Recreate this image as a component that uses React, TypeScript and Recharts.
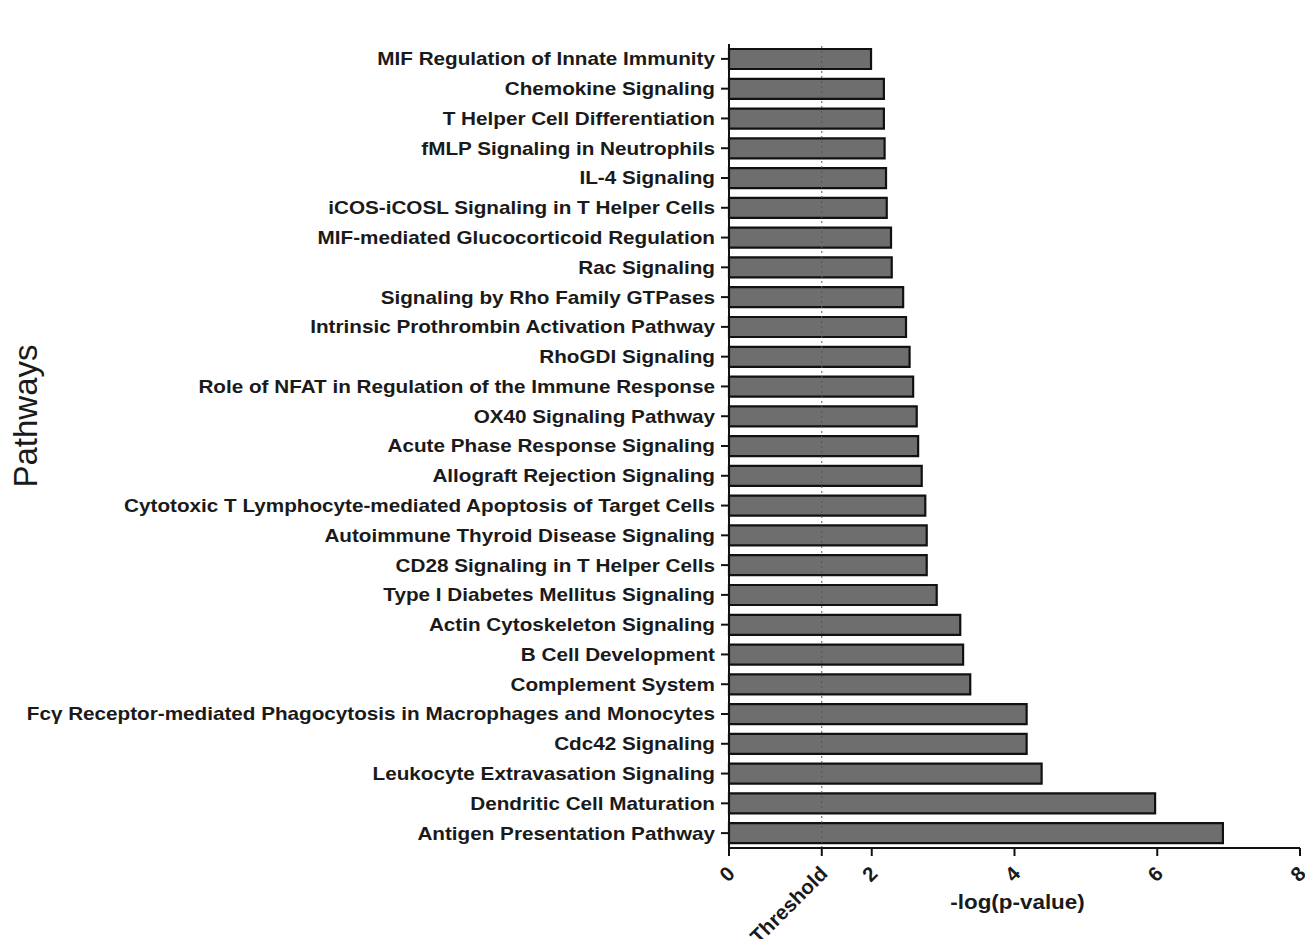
import React from "react";
import { BarChart, Bar, XAxis, YAxis, ReferenceLine } from "recharts";

const pathways = [
  "MIF Regulation of Innate Immunity",
  "Chemokine Signaling",
  "T Helper Cell Differentiation",
  "fMLP Signaling in Neutrophils",
  "IL-4 Signaling",
  "iCOS-iCOSL Signaling in T Helper Cells",
  "MIF-mediated Glucocorticoid Regulation",
  "Rac Signaling",
  "Signaling by Rho Family GTPases",
  "Intrinsic Prothrombin Activation Pathway",
  "RhoGDI Signaling",
  "Role of NFAT in Regulation of the Immune Response",
  "OX40 Signaling Pathway",
  "Acute Phase Response Signaling",
  "Allograft Rejection Signaling",
  "Cytotoxic T Lymphocyte-mediated Apoptosis of Target Cells",
  "Autoimmune Thyroid Disease Signaling",
  "CD28 Signaling in T Helper Cells",
  "Type I Diabetes Mellitus Signaling",
  "Actin Cytoskeleton Signaling",
  "B Cell Development",
  "Complement System",
  "Fcγ Receptor-mediated Phagocytosis in Macrophages and Monocytes",
  "Cdc42 Signaling",
  "Leukocyte Extravasation Signaling",
  "Dendritic Cell Maturation",
  "Antigen Presentation Pathway",
];

const negLogP = [
  1.99, 2.17, 2.17, 2.18, 2.2, 2.21, 2.27, 2.28, 2.44, 2.48, 2.53, 2.58, 2.63,
  2.65, 2.7, 2.75, 2.77, 2.77, 2.91, 3.24, 3.28, 3.38, 4.17, 4.17, 4.38, 5.97,
  6.92,
];

const threshold = 1.3;
const xTicks = [0, threshold, 2, 4, 6, 8];

const data = pathways.map((name, i) => ({ name, value: negLogP[i] }));

const FONT = "'Liberation Sans', Arial, sans-serif";
const INK = "#1a1a1a";
// the reference text is a little wider than plain Arial
const STRETCH = 1.15;

const XTick = (props: any) => {
  const { x, y, payload } = props;
  const label = payload.value === threshold ? "Threshold" : String(payload.value);
  return (
    <g transform={`translate(${x},${y})`}>
      <text
        x={7}
        y={17}
        transform="rotate(-45, 7, 17)"
        textAnchor="end"
        fontSize={20.5}
        fontWeight="bold"
        fontFamily={FONT}
        fill={INK}
      >
        {label}
      </text>
    </g>
  );
};

const YTick = (props: any) => {
  const { x, y, payload } = props;
  return (
    <text
      transform={`translate(${x},${y}) scale(${STRETCH},1)`}
      textAnchor="end"
      dy="0.36em"
      fontSize={18}
      fontWeight="bold"
      fontFamily={FONT}
      fill={INK}
    >
      {payload.value}
    </text>
  );
};

export default function App() {
  return (
    <div style={{ margin: "-8px 0 -8px -8px" }}>
      <BarChart
        width={1313}
        height={947}
        data={data}
        layout="vertical"
        margin={{ top: 44, right: 13, left: 0, bottom: 29 }}
        barSize={20}
      >
        <ReferenceLine
          x={threshold}
          stroke="#555"
          strokeWidth={1}
          strokeDasharray="2 3"
        />
        <XAxis
          type="number"
          domain={[0, 8]}
          ticks={xTicks}
          interval={0}
          height={70}
          tickSize={8}
          stroke="#111"
          strokeWidth={2}
          tick={<XTick />}
          label={{
            content: (p: any) => {
              const vb = p.viewBox || { x: 729, y: 848, width: 571, height: 70 };
              const cx = vb.x + vb.width / 2 + 3;
              const cy = vb.y + vb.height - 9;
              return (
                <text
                  transform={`translate(${cx},${cy}) scale(${STRETCH},1)`}
                  textAnchor="middle"
                  fontSize={19.5}
                  fontWeight="bold"
                  fontFamily={FONT}
                  fill={INK}
                >
                  -log(p-value)
                </text>
              );
            },
          }}
        />
        <YAxis
          type="category"
          dataKey="name"
          width={729}
          interval={0}
          tickSize={8}
          tickMargin={6}
          stroke="#111"
          strokeWidth={2}
          tick={<YTick />}
          label={{
            content: () => (
              <text
                x={37}
                y={416}
                transform="rotate(-90, 37, 416)"
                textAnchor="middle"
                fontSize={33}
                fontFamily={FONT}
                fill={INK}
              >
                Pathways
              </text>
            ),
          }}
        />
        <Bar
          dataKey="value"
          fill="#6e6e6e"
          stroke="#111"
          strokeWidth={2.2}
          isAnimationActive={false}
        />
      </BarChart>
    </div>
  );
}
